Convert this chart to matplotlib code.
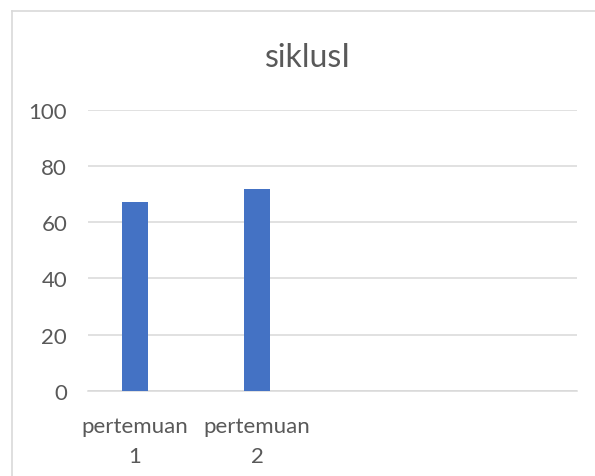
import matplotlib
matplotlib.use("Agg")
import matplotlib.pyplot as plt
from matplotlib.lines import Line2D

categories = ["pertemuan\n1", "pertemuan\n2", "", ""]
values = [67.3, 71.9, None, None]
title = "siklusI"
yticks = [0, 20, 40, 60, 80, 100]

W, H = 595, 477
fig = plt.figure(figsize=(W / 100, H / 100), dpi=100)
plt.rcParams['font.family'] = ['Lato', 'DejaVu Sans']

txt = "#595959"
grid = "#d9d9d9"

# chart frame
fig.add_artist(Line2D([12 / W, 12 / W], [0, 1 - 12 / H], color=grid, lw=1.2, transform=fig.transFigure))
fig.add_artist(Line2D([12 / W, 1], [1 - 12 / H, 1 - 12 / H], color=grid, lw=1.2, transform=fig.transFigure))

ax = fig.add_axes([88 / W, 1 - 392 / H, (577 - 88) / W, (392 - 110.7) / H])
xs = list(range(len(categories)))
bx = [x for x, v in zip(xs, values) if v is not None]
bv = [v for v in values if v is not None]
ax.bar(bx, bv, width=0.21, color="#4472C4", zorder=3)

ax.set_xlim(-0.385, 3.62)
ax.set_ylim(0, 100)
ax.set_yticks(yticks)
ax.set_yticklabels([str(t) for t in yticks])
ax.set_xticks(xs)
ax.set_xticklabels(categories, linespacing=1.6)
ax.grid(axis='y', color=grid, lw=1.1, zorder=0)
for s in ['top', 'right', 'left']:
    ax.spines[s].set_visible(False)
ax.spines['bottom'].set_color(grid)
ax.spines['bottom'].set_linewidth(1.1)
ax.tick_params(axis='both', length=0, labelsize=16, labelcolor=txt)
ax.tick_params(axis='y', pad=15)
ax.tick_params(axis='x', pad=18)

fig.text(308 / W, 1 - 67 / H, title, ha='center', va='baseline', fontsize=23, color=txt)

fig.savefig("out.png", dpi=100)
